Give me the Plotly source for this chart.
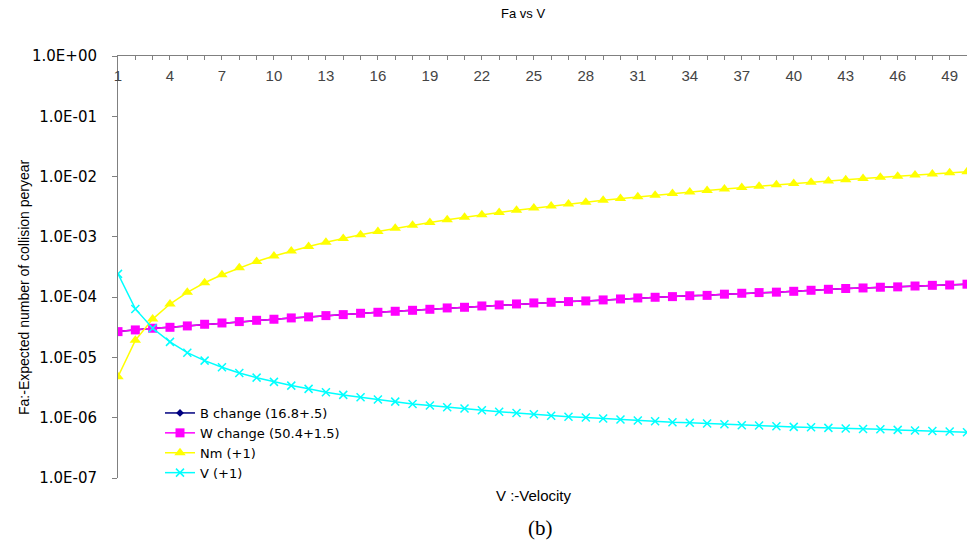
import plotly.graph_objects as go

velocity = list(range(1, 51))

b_change = [2.68e-5, 2.86e-5, 3.05e-5, 3.16e-5, 3.33e-5, 3.55e-5, 3.73e-5, 3.93e-5, 4.13e-5, 4.30e-5,
            4.52e-5, 4.70e-5, 4.94e-5, 5.13e-5, 5.40e-5, 5.61e-5, 5.83e-5, 6.05e-5, 6.29e-5, 6.62e-5,
            6.79e-5, 7.14e-5, 7.43e-5, 7.71e-5, 8.02e-5, 8.22e-5, 8.43e-5, 8.65e-5, 8.99e-5, 9.33e-5,
            9.70e-5, 9.95e-5, 1.02e-4, 1.055e-4, 1.07e-4, 1.12e-4, 1.16e-4, 1.19e-4, 1.21e-4, 1.25e-4,
            1.30e-4, 1.35e-4, 1.39e-4, 1.42e-4, 1.46e-4, 1.48e-4, 1.53e-4, 1.57e-4, 1.59e-4, 1.64e-4]

w_change = [2.68e-5, 2.86e-5, 3.05e-5, 3.16e-5, 3.33e-5, 3.55e-5, 3.73e-5, 3.93e-5, 4.13e-5, 4.30e-5,
            4.52e-5, 4.70e-5, 4.94e-5, 5.13e-5, 5.40e-5, 5.61e-5, 5.83e-5, 6.05e-5, 6.29e-5, 6.62e-5,
            6.79e-5, 7.14e-5, 7.43e-5, 7.71e-5, 8.02e-5, 8.22e-5, 8.43e-5, 8.65e-5, 8.99e-5, 9.33e-5,
            9.70e-5, 9.95e-5, 1.02e-4, 1.055e-4, 1.07e-4, 1.12e-4, 1.16e-4, 1.19e-4, 1.21e-4, 1.25e-4,
            1.30e-4, 1.35e-4, 1.39e-4, 1.42e-4, 1.46e-4, 1.48e-4, 1.53e-4, 1.57e-4, 1.59e-4, 1.64e-4]

nm_plus1 = [4.8e-6, 1.92e-5, 4.32e-5, 7.68e-5, 1.20e-4, 1.73e-4, 2.35e-4, 3.07e-4, 3.89e-4, 4.80e-4,
            5.81e-4, 6.91e-4, 8.11e-4, 9.41e-4, 1.08e-3, 1.23e-3, 1.39e-3, 1.56e-3, 1.73e-3, 1.92e-3,
            2.12e-3, 2.32e-3, 2.54e-3, 2.76e-3, 3.00e-3, 3.24e-3, 3.50e-3, 3.76e-3, 4.04e-3, 4.32e-3,
            4.61e-3, 4.92e-3, 5.23e-3, 5.55e-3, 5.88e-3, 6.22e-3, 6.57e-3, 6.93e-3, 7.30e-3, 7.68e-3,
            8.07e-3, 8.47e-3, 8.88e-3, 9.29e-3, 9.72e-3, 1.016e-2, 1.060e-2, 1.106e-2, 1.152e-2, 1.20e-2]

v_plus1 = [2.43e-4, 6.37e-5, 3.05e-5, 1.81e-5, 1.20e-5, 8.85e-6, 6.87e-6, 5.53e-6, 4.62e-6, 3.93e-6,
           3.41e-6, 3.01e-6, 2.64e-6, 2.39e-6, 2.19e-6, 2.00e-6, 1.85e-6, 1.69e-6, 1.59e-6, 1.49e-6,
           1.42e-6, 1.33e-6, 1.26e-6, 1.20e-6, 1.14e-6, 1.08e-6, 1.04e-6, 1.005e-6, 9.67e-7, 9.31e-7,
           8.96e-7, 8.73e-7, 8.41e-7, 8.25e-7, 8.0e-7, 7.80e-7, 7.50e-7, 7.41e-7, 7.22e-7, 7.04e-7,
           6.95e-7, 6.78e-7, 6.61e-7, 6.52e-7, 6.44e-7, 6.28e-7, 6.12e-7, 6.04e-7, 5.89e-7, 5.74e-7]

series_names = ["B change (16.8+.5)", "W change (50.4+1.5)", "Nm (+1)", "V (+1)"]

y_tickvals = [1e-7, 1e-6, 1e-5, 1e-4, 1e-3, 1e-2, 1e-1, 1e0]
y_ticktext = ["1.0E-07", "1.0E-06", "1.0E-05", "1.0E-04", "1.0E-03", "1.0E-02", "1.0E-01", "1.0E+00"]

FONT = "Liberation Sans, Arial, sans-serif"
WIDE = "DejaVu Sans, Verdana, sans-serif"

fig = go.Figure()
fig.add_trace(go.Scatter(x=velocity, y=b_change, name=series_names[0], mode="lines+markers",
                         line=dict(color="#000080", width=1.5),
                         marker=dict(symbol="diamond", size=6, color="#000080")))
fig.add_trace(go.Scatter(x=velocity, y=w_change, name=series_names[1], mode="lines+markers",
                         line=dict(color="#FF00FF", width=1.5),
                         marker=dict(symbol="square", size=9, color="#FF00FF")))
fig.add_trace(go.Scatter(x=velocity, y=nm_plus1, name=series_names[2], mode="lines+markers",
                         line=dict(color="#FFFF00", width=1.5),
                         marker=dict(symbol="triangle-up", size=10, color="#FFFF00")))
fig.add_trace(go.Scatter(x=velocity, y=v_plus1, name=series_names[3], mode="lines+markers",
                         line=dict(color="#00FFFF", width=1.5),
                         marker=dict(symbol="x-thin", size=8, color="#00FFFF",
                                     line=dict(color="#00FFFF", width=1.5))))

L, R, T, B = 118, 6, 56, 76
W, H = 973, 554
pw, ph = W - L - R, H - T - B


def px(xp):
    return (xp - L) / pw


def py(yp):
    return (H - B - yp) / ph


fig.update_layout(
    width=W, height=H,
    margin=dict(l=L, r=R, t=T, b=B, pad=0),
    paper_bgcolor="white", plot_bgcolor="white",
    font=dict(family=FONT, color="black", size=14),
    showlegend=True,
    legend=dict(x=px(160), y=py(398), xanchor="left", yanchor="top",
                bgcolor="rgba(0,0,0,0)", font=dict(size=13, family=WIDE),
                tracegroupgap=0, itemwidth=30),
    xaxis=dict(range=[1, 50], side="top", showgrid=False, zeroline=False,
               showline=True, linecolor="#808080", linewidth=1,
               ticks="inside", ticklen=4, tickcolor="#808080",
               tick0=1, dtick=3, ticklabelposition="inside", ticklabeloverflow="allow",
               ticklabelstandoff=10,
               tickfont=dict(size=15, family=FONT),
               minor=dict(ticks="inside", dtick=1, ticklen=4, tickcolor="#808080", showgrid=False)),
    yaxis=dict(type="log", range=[-7, 0], showgrid=False, zeroline=False,
               showline=True, linecolor="#808080", linewidth=1,
               ticks="outside", ticklen=5, tickcolor="#808080",
               tickvals=y_tickvals, ticktext=y_ticktext, ticklabeloverflow="allow",
               ticklabelstandoff=12,
               tickfont=dict(size=15, family=WIDE)),
    annotations=[
        dict(text="Fa vs V", x=px(523), y=py(14), xref="paper", yref="paper",
             xanchor="center", yanchor="middle",
             showarrow=False, font=dict(size=13, family=FONT)),
        dict(text="V :-Velocity", x=px(534), y=py(495), xref="paper", yref="paper",
             xanchor="center", yanchor="middle",
             showarrow=False, font=dict(size=15, family=FONT)),
        dict(text="(b)", x=px(540), y=py(528), xref="paper", yref="paper",
             xanchor="center", yanchor="middle",
             showarrow=False, font=dict(size=21, family="Liberation Serif, Times New Roman, serif")),
        dict(text="Fa:-Expected number of collision peryear", x=px(24), y=py(287),
             xref="paper", yref="paper", showarrow=False, textangle=-90,
             xanchor="center", yanchor="middle",
             font=dict(size=14, family=FONT)),
    ],
)

fig.write_html("out.html")
